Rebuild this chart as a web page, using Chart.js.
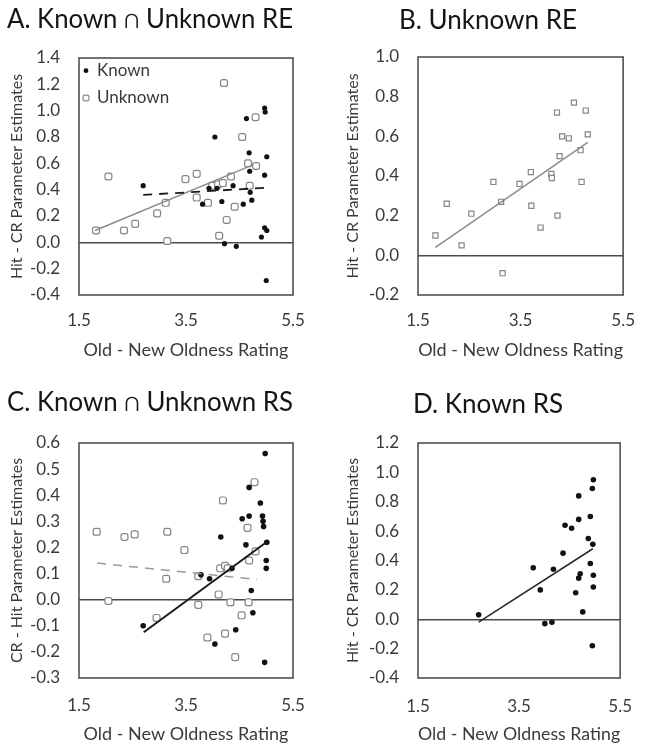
<!DOCTYPE html>
<html>
<head>
<meta charset="utf-8">
<title>Oldness rating vs parameter estimates</title>
<script src="https://cdn.jsdelivr.net/npm/chart.js@4.4.1/dist/chart.umd.min.js"></script>
<style>
  body { margin: 0; background: #fff; }
  #wrap { position: relative; width: 650px; height: 750px; }
  #wrap canvas { position: absolute; }
</style>
</head>
<body>
<div id="wrap">
  <canvas id="chartA" width="325" height="375" style="left:0;top:0"></canvas>
  <canvas id="chartB" width="325" height="375" style="left:325px;top:0"></canvas>
  <canvas id="chartC" width="325" height="375" style="left:0;top:375px"></canvas>
  <canvas id="chartD" width="325" height="375" style="left:325px;top:375px"></canvas>
</div>
<script>
// shared axis settings
const xRange = [1.5, 5.5];
const xStep = 2;
const xTitle = "Old - New Oldness Rating";

// A. Known ∩ Unknown RE
const yRangeA = [-0.4, 1.4];
const knownAx = [2.70, 4.04, 4.63, 4.97, 4.98, 4.68, 5.01, 4.97, 4.69, 3.93, 4.08, 3.81, 4.17, 4.57, 4.73, 4.70, 4.38, 4.97, 5.01, 4.91, 4.22, 4.44, 5.00];
const knownAy = [0.43, 0.80, 0.94, 1.02, 0.99, 0.68, 0.65, 0.51, 0.54, 0.41, 0.41, 0.29, 0.31, 0.29, 0.32, 0.38, 0.43, 0.11, 0.09, 0.04, -0.01, -0.03, -0.29];
const unknownAx = [4.21, 4.80, 4.55, 2.05, 4.66, 4.81, 3.70, 3.49, 4.34, 3.99, 4.10, 4.19, 4.69, 3.70, 3.91, 4.41, 3.12, 2.96, 4.26, 2.55, 2.34, 1.82, 3.15, 4.12];
const unknownAy = [1.21, 0.95, 0.80, 0.50, 0.60, 0.58, 0.52, 0.48, 0.50, 0.43, 0.44, 0.45, 0.43, 0.34, 0.30, 0.27, 0.30, 0.22, 0.17, 0.14, 0.09, 0.09, 0.01, 0.05];
const trendKnownAx = [2.70, 5.00];
const trendKnownAy = [0.36, 0.415];
const trendUnknownAx = [1.80, 4.76];
const trendUnknownAy = [0.09, 0.59];

// B. Unknown RE
const yRangeB = [-0.2, 1.0];
const unknownBx = [1.84, 2.06, 2.35, 2.54, 2.97, 3.12, 3.15, 3.48, 3.70, 3.71, 3.89, 4.10, 4.11, 4.22, 4.21, 4.26, 4.31, 4.44, 4.54, 4.77, 4.81, 4.67, 4.69];
const unknownBy = [0.10, 0.26, 0.05, 0.21, 0.37, 0.27, -0.09, 0.36, 0.42, 0.25, 0.14, 0.41, 0.39, 0.20, 0.72, 0.50, 0.60, 0.59, 0.77, 0.73, 0.61, 0.53, 0.37];
const trendBx = [1.84, 4.81];
const trendBy = [0.04, 0.57];

// C. Known ∩ Unknown RS
const yRangeC = [-0.3, 0.6];
const knownCx = [4.98, 4.68, 4.89, 4.55, 4.68, 4.93, 4.94, 4.95, 4.15, 4.62, 5.01, 5.00, 5.00, 4.36, 3.78, 3.94, 4.72, 4.75, 2.70, 4.43, 4.04, 4.97];
const knownCy = [0.56, 0.43, 0.37, 0.31, 0.32, 0.32, 0.30, 0.28, 0.24, 0.21, 0.22, 0.15, 0.12, 0.12, 0.095, 0.08, 0.035, -0.05, -0.10, -0.115, -0.17, -0.24];
const unknownCx = [1.83, 2.35, 2.54, 3.15, 3.47, 4.19, 4.78, 4.65, 4.68, 4.80, 3.13, 3.73, 4.14, 4.23, 4.28, 2.05, 3.73, 4.11, 4.33, 4.67, 4.54, 2.95, 3.90, 4.23, 4.42];
const unknownCy = [0.26, 0.24, 0.25, 0.26, 0.19, 0.38, 0.45, 0.275, 0.15, 0.185, 0.08, 0.09, 0.12, 0.13, 0.12, -0.005, -0.02, 0.02, -0.01, -0.01, -0.06, -0.07, -0.145, -0.13, -0.22];
const trendKnownCx = [2.71, 5.02];
const trendKnownCy = [-0.125, 0.223];
const trendUnknownCx = [1.84, 4.83];
const trendUnknownCy = [0.14, 0.077];

// D. Known RS
const yRangeD = [-0.4, 1.2];
const knownDx = [2.70, 3.78, 3.92, 4.01, 4.15, 4.18, 4.37, 4.41, 4.54, 4.62, 4.68, 4.68, 4.71, 4.68, 4.76, 4.87, 4.91, 4.91, 4.95, 4.97, 4.96, 4.97, 4.97, 4.95];
const knownDy = [0.03, 0.35, 0.20, -0.03, -0.02, 0.34, 0.45, 0.64, 0.62, 0.18, 0.84, 0.68, 0.31, 0.28, 0.05, 0.55, 0.70, 0.38, 0.89, 0.95, 0.51, 0.30, 0.22, -0.18];
const trendDx = [2.70, 4.96];
const trendDy = [-0.02, 0.48];

const FONT = "Lato, 'Open Sans', 'DejaVu Sans', sans-serif";
const textColor = "#3a3a3a";

function pts(xs, ys) {
  return xs.map((x, i) => ({ x: x, y: ys[i] }));
}

function knownSet(xs, ys, r) {
  return {
    label: "Known",
    data: pts(xs, ys),
    pointStyle: "circle",
    pointRadius: r,
    pointBackgroundColor: "#111",
    pointBorderColor: "#111",
    pointBorderWidth: 0,
    inLegend: true,
  };
}

function unknownSet(xs, ys, r, style) {
  return {
    label: "Unknown",
    data: pts(xs, ys),
    pointStyle: style,
    pointRadius: r,
    pointBackgroundColor: "#fff",
    pointBorderColor: "#858585",
    pointBorderWidth: 1.2,
    inLegend: true,
  };
}

function trendSet(xs, ys, color, width, dash) {
  return {
    type: "line",
    label: "trend",
    data: pts(xs, ys),
    borderColor: color,
    borderWidth: width,
    borderDash: dash,
    pointRadius: 0,
    fill: false,
  };
}

// box around the plot area
const framePlugin = {
  id: "frame",
  beforeDatasetsDraw(chart) {
    const { ctx, chartArea: a } = chart;
    ctx.save();
    ctx.strokeStyle = "#454545";
    ctx.lineWidth = 1.5;
    ctx.strokeRect(a.left, a.top, a.right - a.left, a.bottom - a.top);
    ctx.restore();
  },
};

// small legend inside the plot (panel A only)
const insideLegend = {
  id: "insideLegend",
  afterDraw(chart, args, opts) {
    if (!opts.show) return;
    const { ctx, chartArea: a } = chart;
    let y = a.top + opts.top;
    ctx.save();
    chart.data.datasets.forEach((ds) => {
      if (!ds.inLegend) return;
      ctx.fillStyle = ds.pointBackgroundColor;
      ctx.strokeStyle = ds.pointBorderColor;
      ctx.lineWidth = ds.pointBorderWidth;
      Chart.helpers.drawPoint(
        ctx,
        { pointStyle: ds.pointStyle, radius: ds.pointStyle === "circle" ? 2.4 : 3.4, borderWidth: ds.pointBorderWidth },
        a.left + opts.markerX,
        y
      );
      ctx.fillStyle = textColor;
      ctx.font = "17px " + FONT;
      ctx.textBaseline = "middle";
      ctx.fillText(ds.label, a.left + opts.textX, y);
      y += opts.step;
    });
    ctx.restore();
  },
};

function panel(canvasId, box, titleText, yTitle, yRange, yStep, datasets, legend) {
  const titleSize = 26;
  return new Chart(document.getElementById(canvasId), {
    type: "scatter",
    data: { datasets: datasets },
    options: {
      responsive: false,
      animation: false,
      layout: { padding: { left: box.padL, right: 325 - box.right, top: 0, bottom: 0 } },
      plugins: {
        legend: { display: false },
        tooltip: { enabled: false },
        title: {
          display: true,
          text: titleText,
          color: "#151515",
          font: { family: FONT, size: titleSize, weight: "normal", lineHeight: 1.2 },
          padding: { top: box.titleTop, bottom: box.top - box.titleTop - titleSize * 1.2 },
        },
        insideLegend: legend || { show: false },
      },
      scales: {
        x: {
          type: "linear",
          min: xRange[0],
          max: xRange[1],
          afterFit: (s) => {
            s.height = 375 - box.bottom;
          },
          grid: { display: false, drawTicks: false },
          border: { display: false },
          ticks: {
            stepSize: xStep,
            padding: box.xTickPad,
            maxRotation: 0,
            color: textColor,
            font: { family: FONT, size: 17 },
            callback: (v) => v.toFixed(1),
          },
          title: {
            display: true,
            text: xTitle,
            color: textColor,
            font: { family: FONT, size: 18, lineHeight: 1.2 },
            padding: { top: 0, bottom: box.xTitlePad },
          },
        },
        y: {
          type: "linear",
          min: yRange[0],
          max: yRange[1],
          afterFit: (s) => {
            s.width = box.left - box.padL;
          },
          grid: {
            drawTicks: false,
            lineWidth: 1.5,
            color: (c) => (c.tick && Math.abs(c.tick.value) < 1e-9 ? "#4a4a4a" : "rgba(0,0,0,0)"),
          },
          border: { display: false },
          ticks: {
            stepSize: yStep,
            padding: 19,
            color: textColor,
            font: { family: FONT, size: 17 },
            callback: (v) => (Math.abs(v) < 1e-9 ? "0.0" : v.toFixed(1)),
          },
          title: {
            display: true,
            text: yTitle,
            color: textColor,
            font: { family: FONT, size: 16, lineHeight: 1.2 },
            padding: { top: 0, bottom: 0 },
          },
        },
      },
    },
    plugins: [framePlugin, insideLegend],
  });
}

window.addEventListener("load", function () {
  panel(
    "chartA",
    { padL: 7, left: 79, right: 293, top: 58, bottom: 295, titleTop: 4, xTickPad: 15, xTitlePad: 14 },
    "A. Known \u2229 Unknown RE",
    "Hit - CR Parameter Estimates",
    yRangeA,
    0.2,
    [
      trendSet(trendKnownAx, trendKnownAy, "#1a1a1a", 1.8, [9, 7]),
      trendSet(trendUnknownAx, trendUnknownAy, "#8c8c8c", 1.5, []),
      knownSet(knownAx, knownAy, 2.6),
      unknownSet(unknownAx, unknownAy, 4, "rectRounded"),
    ],
    { show: true, top: 12.7, step: 27.3, markerX: 7, textX: 18 }
  );

  panel(
    "chartB",
    { padL: 18, left: 93, right: 308, top: 57, bottom: 295, titleTop: 4.6, xTickPad: 15, xTitlePad: 14 },
    "B. Unknown RE",
    "Hit - CR Parameter Estimates",
    yRangeB,
    0.2,
    [
      trendSet(trendBx, trendBy, "#8c8c8c", 1.5, []),
      unknownSet(unknownBx, unknownBy, 3.6, "rect"),
    ]
  );

  panel(
    "chartC",
    { padL: 7, left: 79, right: 293, top: 68, bottom: 303, titleTop: 11.6, xTickPad: 17, xTitlePad: 5 },
    "C. Known \u2229 Unknown RS",
    "CR - Hit Parameter Estimates",
    yRangeC,
    0.1,
    [
      trendSet(trendKnownCx, trendKnownCy, "#1a1a1a", 2, []),
      trendSet(trendUnknownCx, trendUnknownCy, "#9a9a9a", 1.5, [9, 7]),
      knownSet(knownCx, knownCy, 2.8),
      unknownSet(unknownCx, unknownCy, 4, "rectRounded"),
    ]
  );

  panel(
    "chartD",
    { padL: 18, left: 93, right: 308, top: 68, bottom: 303, titleTop: 13.6, xTickPad: 18, xTitlePad: 5 },
    "D. Known RS",
    "Hit - CR Parameter Estimates",
    yRangeD,
    0.2,
    [
      trendSet(trendDx, trendDy, "#2a2a2a", 1.6, []),
      knownSet(knownDx, knownDy, 2.8),
    ]
  );
});
</script>
</body>
</html>
